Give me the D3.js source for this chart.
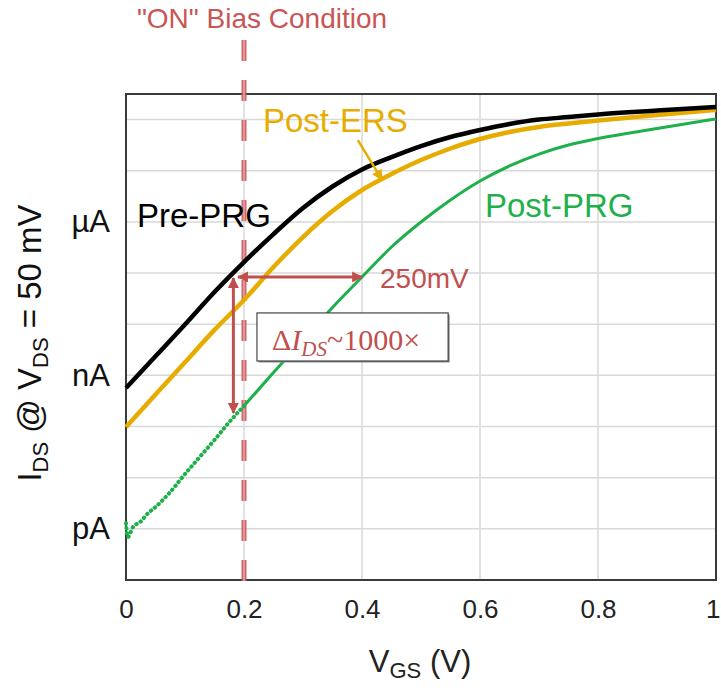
<!DOCTYPE html>
<html>
<head>
<meta charset="utf-8">
<script src="https://cdn.jsdelivr.net/npm/d3@7"></script>
<style>
body{margin:0;background:#fff}
svg{display:block;font-family:"Liberation Sans",Arial,sans-serif}
</style>
</head>
<body>
<script>
// gate voltage steps (V)
var vgs=[0,0.05,0.1,0.15,0.2,0.25,0.3,0.35,0.4,0.45,0.5,0.55,0.6,0.65,0.7,0.75,0.8,0.9,1.0]
// drain current (A)
var preprg=[5.66e-10,2.36e-9,9.87e-9,4.26e-8,1.64e-7,5.79e-7,1.87e-6,4.92e-6,1.06e-5,1.85e-5,3.04e-5,4.56e-5,6.25e-5,8.18e-5,1.0e-4,1.12e-4,1.26e-4,1.5e-4,1.76e-4]
var posters=[9.8e-11,4.21e-10,1.8e-9,7.74e-9,2.97e-8,1.31e-7,5.06e-7,1.63e-6,4.2e-6,8.63e-6,1.62e-5,2.72e-5,4.17e-5,5.71e-5,7.16e-5,8.38e-5,9.6e-5,1.23e-4,1.54e-4]
// post-PRG has its own (noisy) low-current points
var vgsPrg=[0,0.003,0.012,0.024,0.036,0.05,0.075,0.1,0.125,0.15,0.175,0.2,0.25,0.3,0.35,0.4,0.45,0.5,0.55,0.6,0.65,0.7,0.75,0.8,0.9,1.0]
var postprg=[1.3e-12,6.9e-13,1.09e-12,1.36e-12,1.95e-12,2.67e-12,5.25e-12,1.18e-11,2.54e-11,5.46e-11,1.22e-10,2.52e-10,1.14e-9,4.98e-9,2.13e-8,8.38e-8,3.23e-7,9.95e-7,2.68e-6,6.3e-6,1.24e-5,2.12e-5,3.19e-5,4.27e-5,6.68e-5,1.03e-4]
var xTicks=[0,0.2,0.4,0.6,0.8,1]
var xTickLabels=["0","0.2","0.4","0.6","0.8","1"]
var yTicks=[1e-12,1e-9,1e-6]
var yTickLabels=["pA","nA","µA"]
var yGrid=[1e-13,1e-12,1e-11,1e-10,1e-9,1e-8,1e-7,1e-6,1e-5,1e-4]
// annotation values
var onBias=0.2
var shiftFrom=0.19, shiftTo=0.4, shiftLevel=8.4e-8
var dropAt=0.182, dropTop=8.0e-8, dropBottom=1.84e-10

var red="#c0504d", gold="#e6ac00", green="#1fb04b"

var svg=d3.select("body").append("svg").attr("width",721).attr("height",692)
var x=d3.scaleLinear().domain([0,1]).range([126,716])
var y=d3.scaleLog().domain([1e-13,Math.pow(10,-3.5)]).range([580,94])

var defs=svg.append("defs")
function marker(id,col,w,h){
  defs.append("marker").attr("id",id).attr("viewBox","0 0 10 10").attr("refX",9).attr("refY",5)
    .attr("markerWidth",w).attr("markerHeight",h).attr("markerUnits","userSpaceOnUse").attr("orient","auto-start-reverse")
    .append("path").attr("d","M0,0L10,5L0,10z").attr("fill",col)
}
marker("arrR",red,13,11)
marker("arrG",gold,12,11)

//grid
svg.append("g").selectAll("line").data(yGrid).enter().append("line")
   .attr("x1",x(0)).attr("x2",x(1)).attr("y1",function(d){return y(d)}).attr("y2",function(d){return y(d)})
   .style("stroke","#d9d9d9").style("stroke-width",1.5)
svg.append("g").selectAll("line").data([0.2,0.4,0.6,0.8]).enter().append("line")
   .attr("x1",function(d){return x(d)}).attr("x2",function(d){return x(d)}).attr("y1",y.range()[0]).attr("y2",y.range()[1])
   .style("stroke","#d9d9d9").style("stroke-width",1.5)

//axes
var xAxis=d3.axisBottom(x).tickValues(xTicks).tickSize(0).tickPadding(20)
            .tickFormat(function(d,i){return xTickLabels[i]})
var yAxis=d3.axisLeft(y).tickValues(yTicks).tickSize(0).tickPadding(16)
            .tickFormat(function(d,i){return yTickLabels[i]})
var gx=svg.append("g").attr("transform","translate(0,580)").call(xAxis)
var gy=svg.append("g").attr("transform","translate(126,0)").call(yAxis)
gx.select(".domain").remove(); gy.select(".domain").remove()
gx.selectAll("text").style("font-size","26px").style("fill","#222").style("font-family","Liberation Sans, Arial")
gx.selectAll("text").filter(function(d){return d==1}).attr("text-anchor","end").attr("x",4)
gy.selectAll("text").style("font-size","31px").style("fill","#111").style("font-family","Liberation Sans, Arial")

//frame
svg.append("rect").attr("x",x(0)).attr("y",y.range()[1]).attr("width",x(1)-x(0)).attr("height",y.range()[0]-y.range()[1])
   .style("fill","none").style("stroke","#3a3a3a").style("stroke-width",2)

//on bias dashed line
svg.append("line").attr("x1",x(onBias)).attr("x2",x(onBias)).attr("y1",40).attr("y2",583)
   .style("stroke","#c9575a").style("stroke-width",5).style("stroke-dasharray","21,19").style("opacity",0.9)
svg.append("line").attr("x1",x(onBias)).attr("x2",x(onBias)).attr("y1",40).attr("y2",583)
   .style("stroke","#eeb8b8").style("stroke-width",1.2).style("stroke-dasharray","21,19")
svg.append("text").attr("x",262).attr("y",28).attr("text-anchor","middle")
   .style("font-size","28px").style("fill","#c95555").text('"ON" Bias Condition')

//curves
var line=d3.line().x(function(d){return x(d[0])}).y(function(d){return y(d[1])}).curve(d3.curveMonotoneX)
var blackPts=vgs.map(function(v,i){return [v,preprg[i]]})
var goldPts=vgs.map(function(v,i){return [v,posters[i]]})
var greenPts=vgsPrg.map(function(v,i){return [v,postprg[i]]})
var greenLow=greenPts.filter(function(d){return d[0]<=0.2})
var greenHigh=greenPts.filter(function(d){return d[0]>=0.2})
svg.append("path").attr("d",line(greenLow)).style("fill","none").style("stroke",green)
   .style("stroke-width",4).style("stroke-dasharray","0.5,4.5").style("stroke-linecap","round")
svg.append("path").attr("d",line(greenHigh)).style("fill","none").style("stroke",green).style("stroke-width",3)
svg.append("path").attr("d",line(goldPts)).style("fill","none").style("stroke",gold).style("stroke-width",4.5)
svg.append("path").attr("d",line(blackPts)).style("fill","none").style("stroke","#000").style("stroke-width",4.5)

//curve labels
svg.append("text").attr("x",137).attr("y",227).style("font-size","33px").style("fill","#000").text("Pre-PRG")
svg.append("text").attr("x",263).attr("y",132).style("font-size","33px").style("fill",gold).text("Post-ERS")
svg.append("text").attr("x",485).attr("y",217).style("font-size","33px").style("fill",green).text("Post-PRG")
svg.append("line").attr("x1",x(0.393)).attr("y1",y(3.98e-5)).attr("x2",x(0.434)).attr("y2",y(6.6e-6))
   .style("stroke",gold).style("stroke-width",2.5).attr("marker-end","url(#arrG)")

//shift arrows
svg.append("line").attr("x1",x(shiftFrom)).attr("x2",x(shiftTo)).attr("y1",y(shiftLevel)).attr("y2",y(shiftLevel))
   .style("stroke",red).style("stroke-width",3).attr("marker-start","url(#arrR)").attr("marker-end","url(#arrR)")
svg.append("line").attr("x1",x(dropAt)).attr("x2",x(dropAt)).attr("y1",y(dropTop)).attr("y2",y(dropBottom))
   .style("stroke",red).style("stroke-width",3).attr("marker-start","url(#arrR)").attr("marker-end","url(#arrR)")
svg.append("text").attr("x",380).attr("y",288).style("font-size","28px").style("fill",red).text("250mV")

//delta box
svg.append("rect").attr("x",x(0.222)+1.5).attr("y",y(1.66e-8)+1.5).attr("width",x(0.546)-x(0.222)).attr("height",y(1.91e-9)-y(1.66e-8))
   .style("fill","#888")
svg.append("rect").attr("x",x(0.222)).attr("y",y(1.66e-8)).attr("width",x(0.546)-x(0.222)).attr("height",y(1.91e-9)-y(1.66e-8))
   .style("fill","#fff").style("stroke","#444").style("stroke-width",1.2)
var dt=svg.append("text").attr("x",272).attr("y",350).style("font-family","Liberation Serif, DejaVu Serif, serif")
   .style("font-size","30px").style("fill",red)
dt.append("tspan").text("Δ")
dt.append("tspan").style("font-style","italic").text("I")
dt.append("tspan").style("font-style","italic").style("font-size","21px").attr("dy",6).text("DS")
dt.append("tspan").attr("dy",-6).text("~1000×")

//axis titles
var xt=svg.append("text").attr("x",420).attr("y",672).attr("text-anchor","middle").style("font-size","31px").style("fill","#222")
xt.append("tspan").text("V")
xt.append("tspan").style("font-size","22px").attr("dy",6).text("GS")
xt.append("tspan").attr("dy",-6).text(" (V)")
var yt=svg.append("text").attr("transform","translate(41,343) rotate(-90)").attr("text-anchor","middle")
   .style("font-size","33px").style("fill","#111")
yt.append("tspan").text("I")
yt.append("tspan").style("font-size","22px").attr("dy",7).text("DS")
yt.append("tspan").attr("dy",-7).text(" @ V")
yt.append("tspan").style("font-size","22px").attr("dy",7).text("DS")
yt.append("tspan").attr("dy",-7).text(" = 50 mV")
</script>
</body>
</html>
